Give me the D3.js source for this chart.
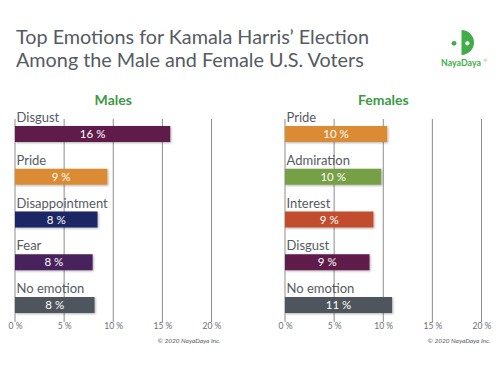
<!DOCTYPE html>
<html>
<head>
<meta charset="utf-8">
<script src="https://cdn.jsdelivr.net/npm/d3@7"></script>
<style>
  body { margin: 0; background: #fff; }
  svg { font-family: Lato, "Open Sans", sans-serif; }
</style>
</head>
<body>
<div id="chart"></div>
<script>
// data
var maleCats = ["Disgust", "Pride", "Disappointment", "Fear", "No emotion"];
var maleValues = [15.8, 9.4, 8.4, 7.9, 8.1];
var maleLabels = ["16 %", "9 %", "8 %", "8 %", "8 %"];
var maleColors = ["#5f1d4c", "#dc8b36", "#1d2765", "#46215c", "#50555c"];

var femaleCats = ["Pride", "Admiration", "Interest", "Disgust", "No emotion"];
var femaleValues = [10.4, 9.8, 9.0, 8.6, 10.9];
var femaleLabels = ["10 %", "10 %", "9 %", "9 %", "11 %"];
var femaleColors = ["#dc8b36", "#76a045", "#c24e2f", "#5f1d4c", "#50555c"];

var tickValues = [0, 5, 10, 15, 20];

var width = 500, height = 375;

var svg = d3.select("#chart").append("svg")
    .attr("width", width)
    .attr("height", height);

var defs = svg.append("defs");
var shadow = defs.append("filter").attr("id", "shadow")
    .attr("x", "-5%").attr("y", "-20%").attr("width", "115%").attr("height", "160%");
shadow.append("feDropShadow")
    .attr("dx", 1).attr("dy", 1).attr("stdDeviation", 0.8)
    .attr("flood-color", "#000").attr("flood-opacity", 0.3);

// title
var title = svg.append("text")
    .attr("x", 16)
    .attr("fill", "#555b62")
    .style("font-size", "19.8px");
title.append("tspan").attr("x", 16).attr("y", 44).text("Top Emotions for Kamala Harris’ Election");
title.append("tspan").attr("x", 16).attr("y", 67).text("Among the Male and Female U.S. Voters");

// logo
var logo = svg.append("g").attr("fill", "#41ad49");
logo.append("circle").attr("cx", 454).attr("cy", 43.3).attr("r", 2.4);
logo.append("path").attr("d", "M461.5,30 A12.5,12.5 0 0 1 461.5,55 Z");
logo.append("circle").attr("cx", 467.3).attr("cy", 43.3).attr("r", 2.1).attr("fill", "#fff");
logo.append("text")
    .attr("x", 461).attr("y", 66)
    .attr("text-anchor", "middle")
    .style("font-size", "8.8px")
    .style("font-weight", "bold")
    .text("NayaDaya");
logo.append("text")
    .attr("x", 483.5).attr("y", 61.5)
    .style("font-size", "4.5px")
    .text("®");

function panel(name, cats, values, labels, colors, x0) {
    var x = d3.scaleLinear().domain([0, 20]).range([x0, x0 + 196.5]);
    var y = d3.scaleBand().domain(cats).range([126, 126 + 5 * 42.75]);
    var barH = 16;
    var g = svg.append("g");

    // header
    g.append("text")
        .attr("x", x(10))
        .attr("y", 105)
        .attr("text-anchor", "middle")
        .attr("fill", "#3c9a45")
        .style("font-size", "14px")
        .style("font-weight", "bold")
        .text(name);

    // grid
    g.selectAll(".grid")
        .data(tickValues)
        .enter()
        .append("line")
        .attr("class", "grid")
        .attr("x1", function(d){ return x(d); })
        .attr("x2", function(d){ return x(d); })
        .attr("y1", 119)
        .attr("y2", 322)
        .attr("stroke", function(d){ return d == 0 ? "#b3b3b3" : "#8c8c8c"; })
        .attr("stroke-width", function(d){ return d == 0 ? 1.5 : 1; });

    var axis = d3.axisBottom(x)
        .tickValues(tickValues)
        .tickSize(0)
        .tickPadding(0)
        .tickFormat(function(d){ return d + " %"; });
    var ax = g.append("g")
        .attr("transform", "translate(0,323)")
        .call(axis);
    ax.select(".domain").remove();
    ax.selectAll("text")
        .attr("fill", "#6a6e73")
        .attr("dy", "0.72em")
        .style("font-family", "Lato, sans-serif")
        .style("font-size", "8.5px");

    // category labels
    g.selectAll(".cat")
        .data(cats)
        .enter()
        .append("text")
        .attr("class", "cat")
        .attr("x", x(0) + 1.5)
        .attr("y", function(d){ return y(d) - 4; })
        .attr("fill", "#555b62")
        .style("font-size", "13px")
        .text(function(d){ return d; });

    // bars
    g.selectAll(".bar")
        .data(cats)
        .enter()
        .append("rect")
        .attr("class", "bar")
        .attr("x", x(0))
        .attr("y", function(d){ return y(d); })
        .attr("width", function(d, i){ return x(values[i]) - x(0); })
        .attr("height", barH)
        .attr("fill", function(d, i){ return colors[i]; })
        .attr("filter", "url(#shadow)");

    g.selectAll(".val")
        .data(cats)
        .enter()
        .append("text")
        .attr("class", "val")
        .attr("x", function(d, i){ return (x(0) + x(values[i])) / 2; })
        .attr("y", function(d){ return y(d) + 12.2; })
        .attr("text-anchor", "middle")
        .attr("fill", "#fff")
        .style("font-size", "11.5px")
        .text(function(d, i){ return labels[i]; });

    // copyright
    g.append("text")
        .attr("x", x(20) + 9)
        .attr("y", 343)
        .attr("text-anchor", "end")
        .attr("fill", "#555b62")
        .style("font-size", "6.5px")
        .style("font-style", "italic")
        .text("© 2020 NayaDaya Inc.");
}

panel("Males", maleCats, maleValues, maleLabels, maleColors, 15);
panel("Females", femaleCats, femaleValues, femaleLabels, femaleColors, 285);
</script>
</body>
</html>
